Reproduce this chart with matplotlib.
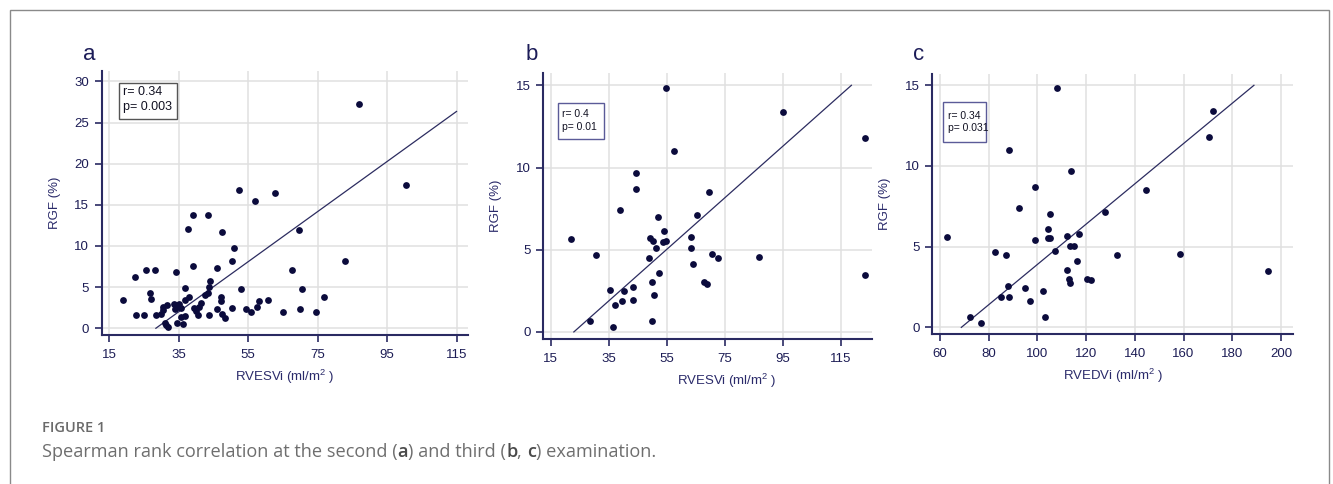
import matplotlib
matplotlib.use("Agg")
import matplotlib.pyplot as plt
from matplotlib.patches import Rectangle

plt.rcParams['font.family'] = ['Liberation Sans', 'DejaVu Sans']
plt.rcParams['mathtext.fontset'] = 'custom'
plt.rcParams['mathtext.rm'] = 'Liberation Sans'
plt.rcParams['mathtext.it'] = 'Liberation Sans:italic'

# panel a: RVESVi vs RGF, second examination
a_x = [19.0, 22.4, 22.7, 25.0, 25.6, 26.7, 26.9, 28.1, 28.3, 30.0, 30.4, 30.5, 30.9, 31.4,
       31.9, 31.7, 33.7, 34.0, 34.3, 34.4, 34.6, 35.2, 35.5, 35.6, 36.3, 36.8, 36.9, 36.9,
       37.6, 38.0, 39.0, 39.0, 39.4, 40.0, 40.5, 40.9, 41.3, 42.6, 43.3, 43.4, 43.8, 43.8,
       44.1, 45.9, 46.1, 47.2, 47.3, 47.4, 47.5, 48.3, 50.2, 50.2, 50.9, 52.4, 53.0, 54.5,
       55.9, 57.0, 57.4, 58.0, 60.8, 62.8, 65.0, 67.6, 69.6, 69.9, 70.6, 74.4, 76.7, 83.0,
       87.0, 100.5]
a_y = [3.45, 6.28, 1.66, 1.66, 7.13, 4.30, 3.53, 7.13, 1.66, 1.74, 2.63, 2.23, 0.69, 0.41,
       0.12, 2.84, 2.96, 2.31, 6.85, 0.61, 2.63, 2.92, 2.43, 1.42, 0.53, 4.86, 3.45, 1.50,
       12.08, 3.77, 13.78, 7.58, 2.43, 2.15, 1.66, 2.63, 3.04, 4.05, 13.78, 4.26, 1.58, 5.07,
       5.76, 2.31, 7.30, 3.77, 3.36, 1.74, 11.71, 1.26, 2.51, 8.23, 9.81, 16.82, 4.82, 2.35,
       1.95, 15.52, 2.63, 3.28, 3.45, 16.42, 1.99, 7.05, 11.96, 2.31, 4.78, 2.03, 3.81, 8.19,
       27.24, 17.43]
a_line_x = [28.4, 115.0]
a_line_y = [0.0, 26.35]

# panel b: RVESVi vs RGF, third examination
b_x = [22.0, 30.6, 28.6, 35.6, 36.6, 37.1, 38.9, 39.7, 40.3, 43.4, 43.3, 44.3, 44.4, 48.8,
       49.1, 50.2, 49.9, 49.9, 50.7, 51.3, 51.9, 52.2, 54.0, 53.7, 54.8, 54.7, 57.6, 63.4,
       63.4, 64.0, 65.5, 67.8, 69.0, 69.7, 70.5, 72.6, 87.0, 95.2, 123.5, 123.4]
b_y = [5.64, 4.68, 0.67, 2.57, 0.28, 1.62, 7.42, 1.89, 2.49, 2.74, 1.93, 9.69, 8.70, 4.48,
       5.70, 5.53, 3.02, 0.69, 2.23, 5.09, 7.01, 3.57, 6.12, 5.45, 5.53, 14.82, 11.01, 5.78,
       5.09, 4.14, 7.14, 3.02, 2.92, 8.53, 4.74, 4.48, 4.58, 13.4, 11.8, 3.49]
b_line_x = [23.0, 118.7]
b_line_y = [0.0, 15.0]

# panel c: RVEDVi vs RGF, third examination
c_x = [63.0, 72.5, 77.0, 82.4, 84.9, 87.0, 88.1, 88.3, 88.2, 92.3, 95.0, 97.1, 98.9, 99.1,
       102.2, 103.2, 104.5, 104.5, 105.0, 105.3, 107.4, 108.2, 112.1, 112.3, 113.0, 113.2,
       113.6, 113.5, 114.9, 116.2, 117.1, 120.5, 121.9, 127.9, 132.5, 144.7, 158.5, 170.4,
       172.1, 194.7]
c_y = [5.62, 0.66, 0.25, 4.67, 1.86, 4.46, 2.56, 1.90, 10.99, 7.42, 2.46, 1.61, 5.43, 8.70,
       2.23, 0.66, 6.12, 5.52, 5.52, 7.00, 4.73, 14.81, 3.55, 5.68, 3.02, 2.73, 9.67, 5.06,
       5.06, 4.11, 5.79, 3.02, 2.91, 7.13, 4.46, 8.51, 4.57, 11.8, 13.39, 3.47]
c_line_x = [68.76, 188.9]
c_line_y = [0.0, 15.0]

W, H = 1333, 484
DOT = '#0b0b3c'
GRID = '#e0e0e0'

fig = plt.figure(figsize=(W / 100, H / 100), dpi=100)
fig.patch.set_facecolor('white')


def fx(px):
    return px / W


def fy(py):
    return 1 - py / H


def make_panel(left, top, right, bottom, xs, ys, lx, ly, xlim, ylim, xticks, yticks,
               xlabel, xlab_pos, letter, letter_xy, box, box_color, stats, stat_xy, stat_size):
    ax = fig.add_axes([fx(left), fy(bottom), fx(right - left), (bottom - top) / H])
    ax.set_xlim(xlim)
    ax.set_ylim(ylim)
    ax.set_xticks(xticks)
    ax.set_yticks(yticks)
    ax.grid(True, color=GRID, lw=1.1, zorder=0)
    ax.set_axisbelow(True)
    for s in ['top', 'right']:
        ax.spines[s].set_visible(False)
    for s in ['left', 'bottom']:
        ax.spines[s].set_color('#2a2a62')
        ax.spines[s].set_linewidth(1.5)
    ax.tick_params(colors='#2a2a62', labelcolor='#1c1c55', length=5, width=1.2,
                   labelsize=9.5, pad=4)
    ax.tick_params(axis='x', pad=5)
    ax.scatter(xs, ys, s=24, color=DOT, zorder=3, linewidths=0)
    ax.plot(lx, ly, color='#2c2c60', lw=0.9, zorder=2)
    ax.set_ylabel('RGF (%)', fontsize=9.5, color='#2a2a6a')
    ax.set_xlabel(xlabel, fontsize=9.5, color='#2a2a6a')
    # label offsets measured in pixels from the spines
    ax.yaxis.set_label_coords(-41 / (right - left), 0.5)
    ax.xaxis.set_label_coords(xlab_pos, -(32.5 / (bottom - top)))
    fig.text(fx(letter_xy[0]), fy(letter_xy[1]), letter, fontsize=16, color='#1c1c58',
             ha='center', va='center')
    bx0, by0, bx1, by1 = box
    fig.patches.append(Rectangle((fx(bx0), fy(by1)), fx(bx1 - bx0), (by1 - by0) / H,
                                 transform=fig.transFigure, fill=False,
                                 edgecolor=box_color, lw=1.0))
    for line, yy in zip(stats, stat_xy[1]):
        fig.text(fx(stat_xy[0]), fy(yy), line, fontsize=stat_size, color='#111122',
                 ha='left', va='center')
    return ax


make_panel(101.7, 70.7, 468, 335, a_x, a_y, a_line_x, a_line_y, (12.8, 118.3), (-0.82, 31.3),
           [15, 35, 55, 75, 95, 115], [0, 5, 10, 15, 20, 25, 30],
           r'RVESVi (ml/m$^2$ )', 0.5, 'a', (89, 55),
           (119, 82.7, 177.3, 119.3), '#555555', ['r= 0.34', 'p= 0.003'], (123, [92.3, 107.3]), 9)

make_panel(543.3, 73.3, 871.7, 339, b_x, b_y, b_line_x, b_line_y, (12.47, 125.7), (-0.43, 15.73),
           [15, 35, 55, 75, 95, 115], [0, 5, 10, 15],
           r'RVESVi (ml/m$^2$ )', 0.558, 'b', (531.7, 55),
           (558.3, 102.7, 603.7, 138.7), '#5b5b98', ['r= 0.4', 'p= 0.01'], (562.5, [114, 127.3]), 7.5)

make_panel(932.3, 74, 1293.3, 334, c_x, c_y, c_line_x, c_line_y, (56.85, 205.06), (-0.41, 15.70),
           [60, 80, 100, 120, 140, 160, 180, 200], [0, 5, 10, 15],
           r'RVEDVi (ml/m$^2$ )', 0.5, 'c', (919, 55),
           (943.3, 102.3, 986, 141.7), '#5b5b98', ['r= 0.34', 'p= 0.031'], (947.5, [116, 128.3]), 7.5)

# outer frame
fig.patches.append(Rectangle((fx(9.5), -0.05), fx(1329 - 9.5), fy(9.5) + 0.05,
                             transform=fig.transFigure, fill=False, edgecolor='#8a8a8a', lw=1.0))

# caption
fig.text(fx(42), fy(428), 'FIGURE 1', fontsize=10.5, color='#6a6a6a', family='Open Sans',
         fontweight='semibold', ha='left', va='center')
pieces = [('Spearman rank correlation at the second (', 'normal', '#6e6e6e'),
          ('a', 'semibold', '#4a4a4a'),
          (') and third (', 'normal', '#6e6e6e'),
          ('b', 'semibold', '#4a4a4a'),
          (', ', 'normal', '#6e6e6e'),
          ('c', 'semibold', '#4a4a4a'),
          (') examination.', 'normal', '#6e6e6e')]
renderer = fig.canvas.get_renderer()
x_px = 42
for txt, wt, col in pieces:
    t = fig.text(x_px / W, fy(457), txt, fontsize=13.1, color=col, family='Open Sans',
                 fontweight=wt, ha='left', va='baseline')
    x_px = t.get_window_extent(renderer).x1

fig.savefig('out.png', dpi=100, facecolor='white')
